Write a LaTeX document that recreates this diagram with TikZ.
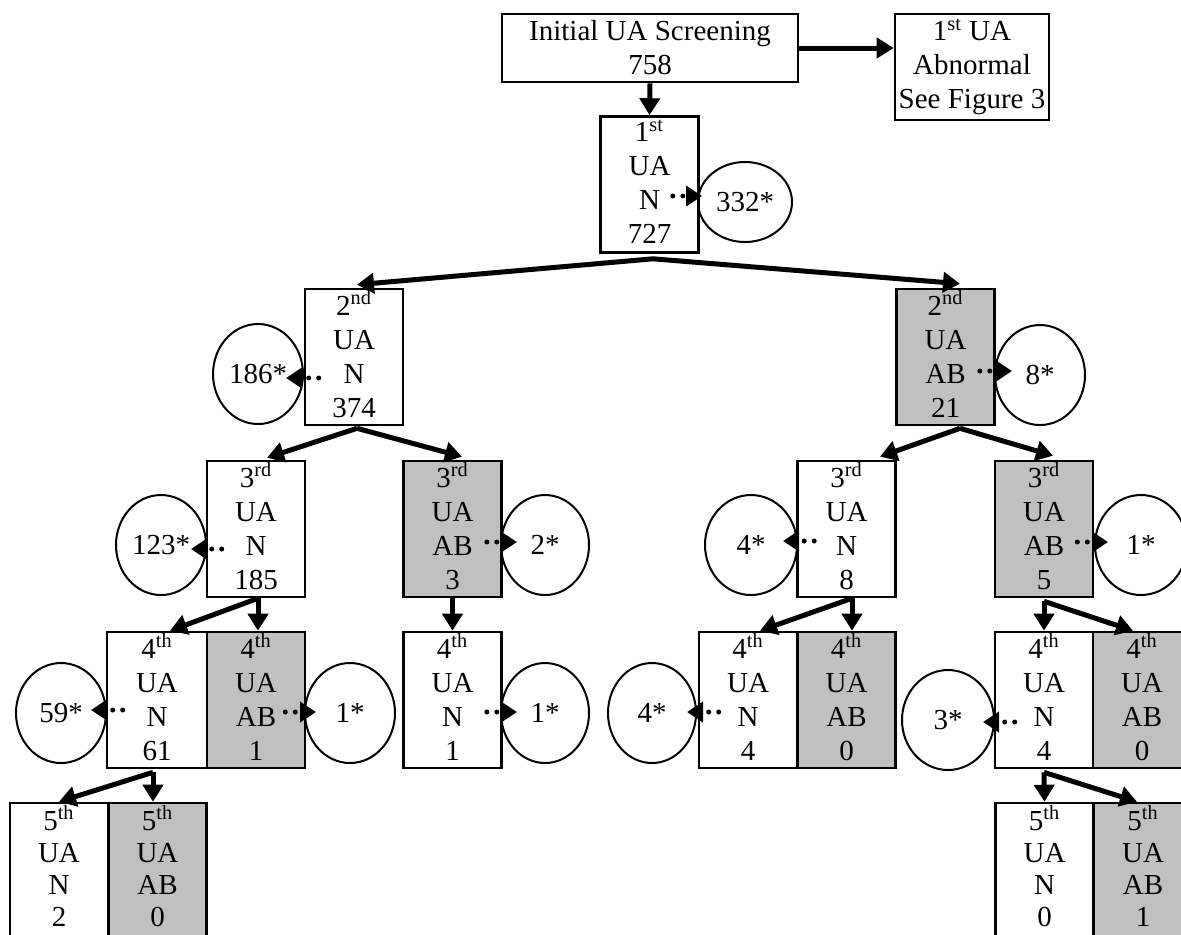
\documentclass[tikz,border=0pt]{standalone}
\usepackage{fontspec}
\setmainfont{Liberation Serif}
\usetikzlibrary{arrows.meta,shapes.geometric}
\definecolor{boxgray}{RGB}{192,192,192}
\begin{document}
\begin{tikzpicture}[x=0.5pt,y=-0.5pt,
  every node/.style={font=\fontsize{14.5}{17}\selectfont},
  box/.style={draw, line width=1.3pt, inner sep=0pt, align=center, minimum width=49pt, minimum height=68pt},
  cell/.style={box, execute at end node={\rule[-3pt]{0pt}{0pt}}},
  lowcell/.style={box, font=\fontsize{14.5}{16}\selectfont, execute at end node={\rule[-5pt]{0pt}{0pt}}},
  ab/.style={cell, fill=boxgray},
  lowab/.style={lowcell, fill=boxgray},
  circ/.style={ellipse, draw, line width=1pt, inner sep=0pt, minimum width=45pt, minimum height=50pt},
  arr/.style={line width=2.5pt, -{Triangle[length=8.5pt,width=10pt]}},
  dotarr/.style={line width=2.5pt, line cap=round, dash pattern=on 0pt off 5pt, -{Triangle[length=8pt,width=10pt]}}
]
\useasboundingbox (0,0) rectangle (1181,934);

% top
\node[box, minimum width=148pt, minimum height=34pt] (init) at (650,48) {Initial UA Screening\\758};
\node[box, minimum width=77pt, minimum height=53pt] (abn) at (972,67) {1\textsuperscript{st} UA\\Abnormal\\See Figure 3};
\node[cell] (u1) at (649.5,184.5) {1\textsuperscript{st}\\UA\\N\\727};
\node[circ, minimum width=47pt, minimum height=40pt] (c1) at (745,202) {332*};

% level 2
\node[cell] (u2n) at (354,357) {2\textsuperscript{nd}\\UA\\N\\374};
\node[circ] (c2n) at (258,374) {186*};
\node[ab] (u2ab) at (945.5,357) {2\textsuperscript{nd}\\UA\\AB\\21};
\node[circ] (c2ab) at (1040,375) {8*};

% level 3
\node[cell] (u3na) at (256,529) {3\textsuperscript{rd}\\UA\\N\\185};
\node[circ] (c3na) at (161,545) {123*};
\node[ab] (u3aba) at (452.5,529) {3\textsuperscript{rd}\\UA\\AB\\3};
\node[circ, minimum width=44pt] (c3aba) at (545,545) {2*};
\node[cell] (u3nb) at (846.5,529) {3\textsuperscript{rd}\\UA\\N\\8};
\node[circ, minimum width=46pt] (c3nb) at (751,545) {4*};
\node[ab] (u3abb) at (1044,529) {3\textsuperscript{rd}\\UA\\AB\\5};
\node[circ, minimum width=46pt] (c3abb) at (1141,545) {1*};

% level 4
\node[cell, minimum width=50pt] (u4na) at (157,700) {4\textsuperscript{th}\\UA\\N\\61};
\node[ab] (u4aba) at (256,700) {4\textsuperscript{th}\\UA\\AB\\1};
\node[circ] (c4na) at (61,713) {59*};
\node[circ] (c4aba) at (350,713) {1*};
\node[cell] (u4nc) at (452.5,700) {4\textsuperscript{th}\\UA\\N\\1};
\node[circ, minimum width=44pt] (c4nc) at (545,713) {1*};
\node[cell] (u4nb) at (748,700) {4\textsuperscript{th}\\UA\\N\\4};
\node[ab] (u4abb) at (846.5,700) {4\textsuperscript{th}\\UA\\AB\\0};
\node[circ, minimum width=44pt] (c4nb) at (652,713) {4*};
\node[cell] (u4nd) at (1044,700) {4\textsuperscript{th}\\UA\\N\\4};
\node[ab] (u4abd) at (1142,700) {4\textsuperscript{th}\\UA\\AB\\0};
\node[circ, minimum width=46pt] (c4nd) at (948,720) {3*};

% level 5
\node[lowcell] (u5na) at (59,871) {5\textsuperscript{th}\\UA\\N\\2};
\node[lowab] (u5aba) at (157.5,871) {5\textsuperscript{th}\\UA\\AB\\0};
\node[lowcell] (u5nd) at (1044.5,871) {5\textsuperscript{th}\\UA\\N\\0};
\node[lowab] (u5abd) at (1143,871) {5\textsuperscript{th}\\UA\\AB\\1};

% solid arrows
\draw[arr] (init.east) -- (init.east -| abn.west);
\draw[arr] (init.south) -- (u1.north);
\draw[arr] ([xshift=1.75pt,yshift=-2.5pt]u1.south) -- ([xshift=1.5pt,yshift=1.5pt]u2n.north);
\draw[arr] ([xshift=1.75pt,yshift=-2.5pt]u1.south) -- ([xshift=7.25pt,yshift=2pt]u2ab.north);
\draw[arr] ([xshift=1.5pt,yshift=-1pt]u2n.south) -- ([xshift=5.5pt,yshift=1pt]u3na.north);
\draw[arr] ([xshift=1.5pt,yshift=-1pt]u2n.south) -- ([xshift=4.75pt,yshift=1.5pt]u3aba.north);
\draw[arr] ([xshift=7.25pt,yshift=-1pt]u2ab.south) -- ([xshift=16.75pt,yshift=1.5pt]u3nb.north);
\draw[arr] ([xshift=7.25pt,yshift=-1pt]u2ab.south) -- ([xshift=4.5pt,yshift=2pt]u3abb.north);
\draw[arr] ([xshift=1pt]u3na.south) -- ([xshift=1pt]u4aba.north);
\draw[arr] ([xshift=1pt]u3na.south) -- ([xshift=6.5pt]u4na.north);
\draw[arr] (u3aba.south) -- (u4nc.north);
\draw[arr] ([xshift=2.75pt]u3nb.south) -- ([xshift=2.75pt]u4abb.north);
\draw[arr] ([xshift=2.75pt]u3nb.south) -- ([xshift=6pt]u4nb.north);
\draw[arr] ([yshift=-1.5pt]u3abb.south) -- (u4nd.north);
\draw[arr] ([yshift=-1.5pt]u3abb.south) -- ([xshift=-4.5pt]u4abd.north);
\draw[arr] ([xshift=-2pt,yshift=-1.5pt]u4na.south) -- ([xshift=-2.25pt]u5aba.north);
\draw[arr] ([xshift=-2pt,yshift=-1.5pt]u4na.south) -- (u5na.north);
\draw[arr] ([yshift=-1.5pt]u4nd.south) -- (u5nd.north);
\draw[arr] ([yshift=-1.5pt]u4nd.south) -- ([xshift=-3pt]u5abd.north);

% dotted arrows
\draw[dotarr] ([xshift=-13.5pt,yshift=-5.75pt]u1.east) -- ([xshift=2.5pt,yshift=3pt]c1.west);
\draw[dotarr] ([xshift=7.5pt,yshift=-10.5pt]u2n.west) -- ([xshift=-9pt,yshift=-2pt]c2n.east);
\draw[dotarr] ([xshift=-8pt,yshift=-7pt]u2ab.east) -- ([xshift=9pt,yshift=2pt]c2ab.west);
\draw[dotarr] ([xshift=8pt,yshift=-10pt]u3na.west) -- ([xshift=-8pt,yshift=-2pt]c3na.east);
\draw[dotarr] ([xshift=-8pt,yshift=-6.5pt]u3aba.east) -- ([xshift=8.5pt,yshift=1.5pt]c3aba.west);
\draw[dotarr] ([xshift=9pt,yshift=-6pt]u3nb.west) -- ([xshift=-7.5pt,yshift=2pt]c3nb.east);
\draw[dotarr] ([xshift=-8.5pt,yshift=-6.5pt]u3abb.east) -- ([xshift=7pt,yshift=1.5pt]c3abb.west);
\draw[dotarr] ([xshift=8.5pt,yshift=-5pt]u4na.west) -- ([xshift=-8pt,yshift=1.5pt]c4na.east);
\draw[dotarr] ([xshift=-10.5pt,yshift=-6pt]u4aba.east) -- ([xshift=6pt,yshift=0.5pt]c4aba.west);
\draw[dotarr] ([xshift=-8pt,yshift=-6pt]u4nc.east) -- ([xshift=8.5pt,yshift=0.5pt]c4nc.west);
\draw[dotarr] ([xshift=10.5pt,yshift=-6pt]u4nb.west) -- ([xshift=-5pt,yshift=0.5pt]c4nb.east);
\draw[dotarr] ([xshift=10.5pt,yshift=-11pt]u4nd.west) -- ([xshift=-6pt,yshift=-1pt]c4nd.east);
\end{tikzpicture}
\end{document}
